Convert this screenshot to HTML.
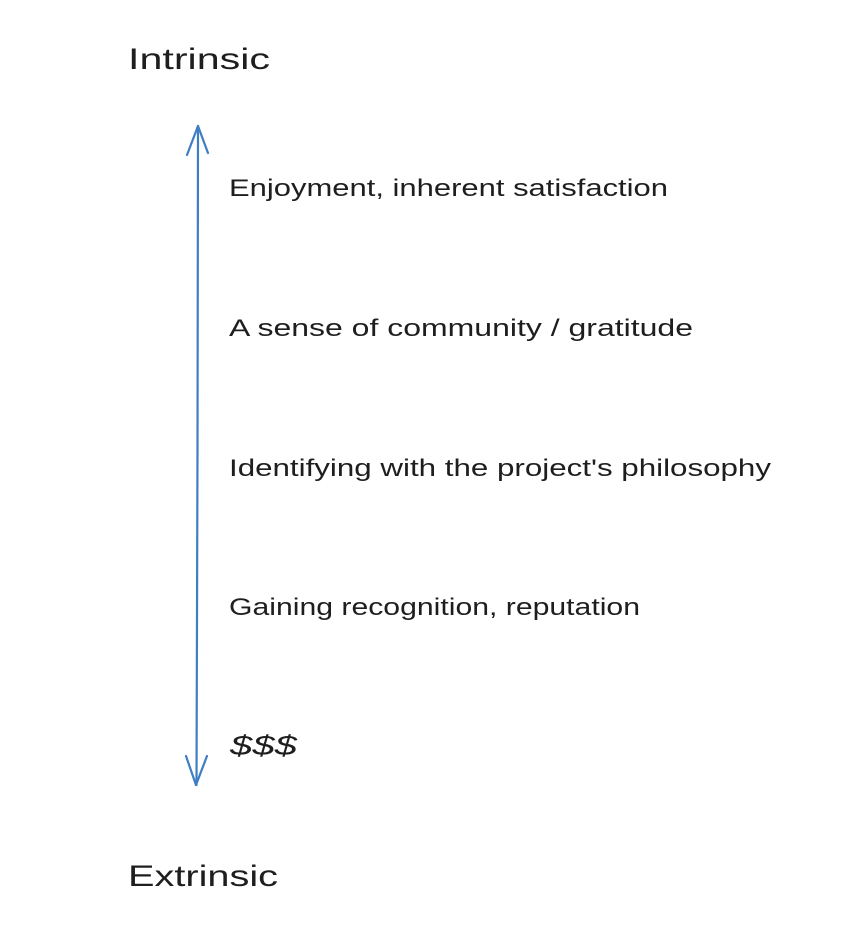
<!DOCTYPE html>
<html><head><meta charset="utf-8"><style>
html,body{margin:0;padding:0;background:#fff;}
svg{display:block;}
text{font-family:"Liberation Sans",sans-serif;fill:#1e1e1e;}
</style></head><body>
<svg width="860" height="932" viewBox="0 0 860 932" xmlns="http://www.w3.org/2000/svg">
<text x="128" y="69" font-size="30" textLength="142" lengthAdjust="spacingAndGlyphs">Intrinsic</text>
<text x="128" y="886" font-size="30" textLength="150" lengthAdjust="spacingAndGlyphs">Extrinsic</text>
<g stroke="#3f7dc4" stroke-width="2.2" fill="none" stroke-linecap="round">
<path d="M198 126 L197.5 450 L196.5 785"/>
<path d="M198 126 L187 155 M198 126 L208 153"/>
<path d="M196 785 L186 756 M196 785 L207 756"/>
</g>
<text x="229" y="196" font-size="24" textLength="439" lengthAdjust="spacingAndGlyphs">Enjoyment, inherent satisfaction</text>
<text x="229" y="336" font-size="24" textLength="464" lengthAdjust="spacingAndGlyphs">A sense of community / gratitude</text>
<text x="229" y="476" font-size="24" textLength="542" lengthAdjust="spacingAndGlyphs">Identifying with the project's philosophy</text>
<text x="229" y="615" font-size="24" textLength="411" lengthAdjust="spacingAndGlyphs">Gaining recognition, reputation</text>
<text x="230" y="755" font-size="28" font-style="italic" textLength="67" lengthAdjust="spacingAndGlyphs">$$$</text>
</svg>
</body></html>
